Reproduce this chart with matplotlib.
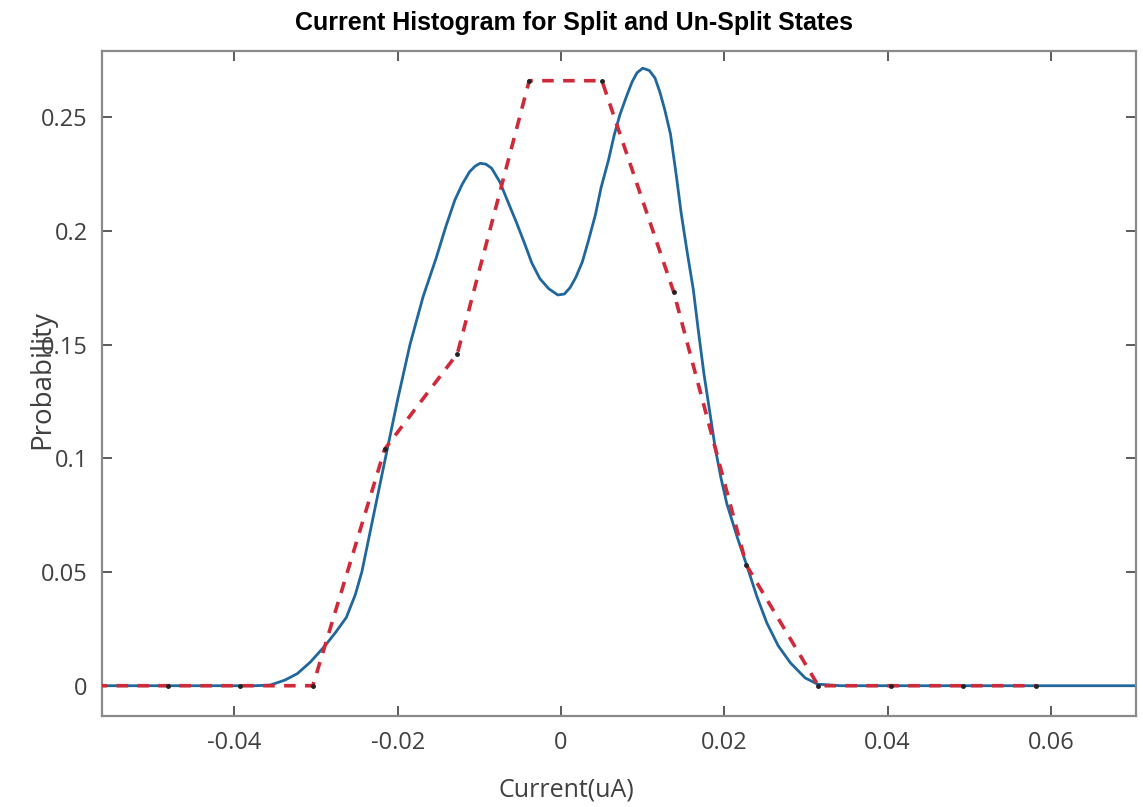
import matplotlib
matplotlib.use("Agg")
import matplotlib.pyplot as plt

# red dashed histogram (bin centres and probabilities)
hist_x = [-0.0570, -0.0481, -0.0393, -0.0304, -0.0216, -0.0127, -0.0039,
          0.0050, 0.0138, 0.0227, 0.0315, 0.0404, 0.0492, 0.0581]
hist_p = [0, 0, 0, 0, 0.104, 0.146, 0.266, 0.266, 0.173, 0.053, 0, 0, 0, 0]

# blue smooth density curve
fit_x = [-0.0562, -0.0375, -0.0356, -0.0338, -0.0323, -0.0307, -0.0289,
         -0.0276, -0.0263, -0.0252, -0.0244, -0.0229, -0.0214, -0.0200,
         -0.0185, -0.0169, -0.0153, -0.0141, -0.0130, -0.0121, -0.0112,
         -0.0105, -0.0099, -0.0092, -0.0085, -0.0075, -0.0065, -0.0055,
         -0.0044, -0.0036, -0.0026, -0.0015, -0.0004, 0.0004, 0.0011,
         0.0018, 0.0026, 0.0033, 0.0042, 0.0049, 0.0058, 0.0065, 0.0072,
         0.0080, 0.0087, 0.0093, 0.0100, 0.0108, 0.0115, 0.0121, 0.0127,
         0.0134, 0.0141, 0.0147, 0.0154, 0.0162, 0.0168, 0.0175, 0.0183,
         0.0189, 0.0196, 0.0203, 0.0216, 0.0228, 0.0240, 0.0252, 0.0266,
         0.0281, 0.0299, 0.0314, 0.0342, 0.0704]
fit_p = [0, 0, 0.0003, 0.0025, 0.0053, 0.0104, 0.0176,
         0.0235, 0.030, 0.040, 0.050, 0.076, 0.102, 0.126,
         0.150, 0.171, 0.188, 0.202, 0.2136, 0.2205, 0.226,
         0.2285, 0.2297, 0.2293, 0.2275, 0.2215, 0.2127, 0.204,
         0.1938, 0.186, 0.179, 0.1745, 0.1718, 0.1722, 0.175,
         0.1795, 0.1863, 0.195, 0.207, 0.219, 0.231, 0.242, 0.251,
         0.259, 0.2655, 0.2695, 0.2715, 0.2705, 0.2672, 0.261, 0.2532,
         0.2425, 0.2246, 0.208, 0.1916, 0.174, 0.1564, 0.137, 0.1182,
         0.104, 0.091, 0.080, 0.065, 0.0522, 0.039, 0.0276, 0.0175,
         0.010, 0.0034, 0.0007, 0, 0]

xticks = [-0.04, -0.02, 0, 0.02, 0.04, 0.06]
xtick_labels = ["-0.04", "-0.02", "0", "0.02", "0.04", "0.06"]
yticks = [0, 0.05, 0.1, 0.15, 0.2, 0.25]
ytick_labels = ["0", "0.05", "0.1", "0.15", "0.2", "0.25"]

plt.rcParams['font.family'] = ['Open Sans', 'DejaVu Sans']

fig = plt.figure(figsize=(11.43, 8.07), dpi=100)
ax = fig.add_axes([0.089, 0.1128, 0.9047, 0.8244])

ax.plot(fit_x, fit_p, color='#1f679c', lw=2.0, zorder=2)
ax.plot(hist_x, hist_p, color='#cf2a3a', lw=2.6, ls=(0, (3.2, 2.6)),
        marker='.', ms=5, mfc='#222222', mec='#222222', zorder=3)

ax.set_xlim(-0.05625, 0.07038)
ax.set_ylim(-0.0133, 0.2792)
ax.set_xticks(xticks)
ax.set_xticklabels(xtick_labels)
ax.set_yticks(yticks)
ax.set_yticklabels(ytick_labels)

ax.tick_params(direction='in', length=7, width=1.2, colors='#404040',
               labelsize=17, top=True, right=True)
ax.tick_params(axis='x', pad=11)
ax.tick_params(axis='y', pad=10)
for s in ax.spines.values():
    s.set_color('#8a8a8a')
    s.set_linewidth(1.6)

fig.text(0.502, 0.9715, "Current Histogram for Split and Un-Split States",
         fontsize=18, fontweight='bold', ha='center', va='center',
         family=['Liberation Sans', 'DejaVu Sans'])
ax.set_xlabel("Current(uA)", fontsize=18, color='#404040')
ax.xaxis.set_label_coords(0.449, -0.092)
ax.set_ylabel("Probability", fontsize=20, color='#404040')
ax.yaxis.set_label_coords(-0.044, 0.505)

fig.savefig("out.png", dpi=100)
